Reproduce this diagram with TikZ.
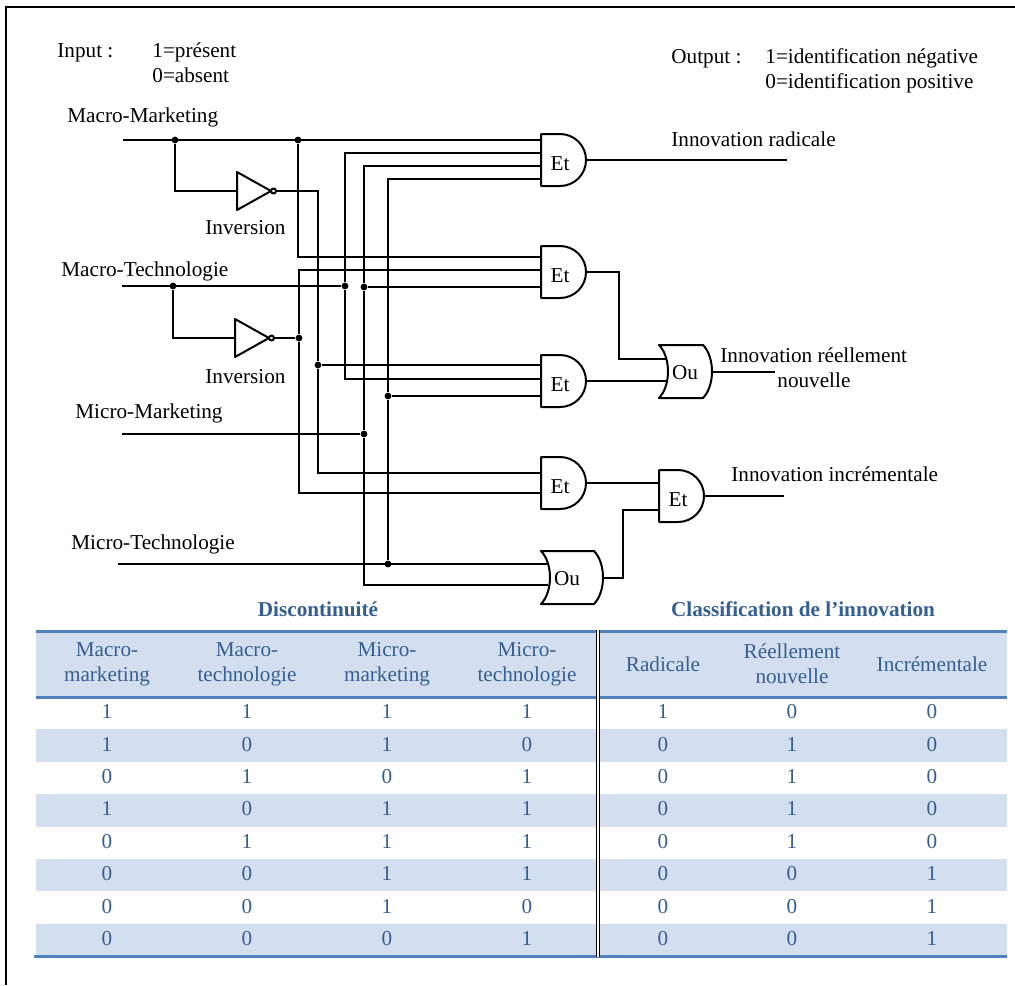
\documentclass[tikz,border=0pt]{standalone}
\usepackage{fontspec}
\setmainfont{Liberation Serif}
\usepackage{xcolor}
\usepackage{tikz}
\definecolor{ink}{HTML}{000000}
\definecolor{tblue}{HTML}{365F91}
\definecolor{rulec}{HTML}{4F81BD}
\definecolor{rowfill}{HTML}{D3DFEE}
\newcommand{\lblfont}{\fontsize{10.6}{12.5}\selectfont}
\tikzset{
  wire/.style={draw=ink, line width=1pt},
  gate/.style={draw=ink, line width=1pt, line join=round},
  frame/.style={draw=ink, line width=1pt},
  dot/.style={circle, fill=ink, inner sep=1.2pt},
  lab/.style={text=ink, inner sep=0pt, anchor=base west},
  glab/.style={text=ink, inner sep=0pt},
  th/.style={text=tblue, align=center, inner sep=0pt},
  td/.style={text=tblue, inner sep=0pt},
  tt/.style={text=tblue, font=\lblfont\bfseries, inner sep=0pt},
  hrule/.style={draw=rulec, line width=1.5pt},
  band/.style={fill=rowfill},
  dbl/.style={draw=ink, line width=0.8pt, double=white, double distance=0.8pt},
  pics/andgate/.style={code={
    \draw[gate] (19,-26) -- (0,-26) -- (0,26) -- (19,26)
      .. controls (33.4,26) and (45,14.4) .. (45,0)
      .. controls (45,-14.4) and (33.4,-26) .. cycle;
    \node[glab] (-t) at (19,4) {Et};
    \coordinate (-out) at (45,0);
  }},
  pics/orgate/.style={code={
    \draw[gate] (0,-26.5) -- (#1-9,-26.5)
      .. controls (#1+3,-14) and (#1+3,14) .. (#1-9,26.5) -- (0,26.5)
      .. controls (12,14) and (12,-14) .. cycle;
    \node[glab] (-t) at (26,1) {Ou};
    \coordinate (-out) at (#1,0);
  }},
  pics/notgate/.style={code={
    \draw[gate] (0,-19) -- (34,0) -- (0,19) -- cycle;
    \draw[gate] (36.5,0) circle (2.5);
    \coordinate (-in) at (0,0);
    \coordinate (-out) at (39,0);
  }},
}
\begin{document}
\begin{tikzpicture}[x=0.5pt, y=-0.5pt, font=\lblfont]
  \useasboundingbox (0,0) rectangle (1015,985);
  \draw[frame] (1015,7) -- (6,7) -- (6,985);

  % legend
  \node[lab] (inp) at (57,57) {Input :};
  \node[lab] (inp1) at (152,57) {1=présent};
  \node[lab] (inp0) at (152,82) {0=absent};
  \node[lab] (outp) at (671,63) {Output :};
  \node[lab] (outp1) at (765,63) {1=identification négative};
  \node[lab] (outp0) at (765,88) {0=identification positive};

  % inputs
  \node[lab] (lMM) at (67,122) {Macro-Marketing};
  \node[lab] (lMT) at (61,276) {Macro-Technologie};
  \node[lab] (lmM) at (75,418) {Micro-Marketing};
  \node[lab] (lmT) at (71,549) {Micro-Technologie};
  \coordinate (inMM) at (123,140);
  \coordinate (inMT) at (122,286);
  \coordinate (inmM) at (122,434);
  \coordinate (inmT) at (118,564);

  % gates
  \pic (n1) at (237,191) {notgate};
  \pic (n2) at (235,338) {notgate};
  \node[lab] (inv1) at (205,234) {Inversion};
  \node[lab] (inv2) at (205,383) {Inversion};
  \pic (g1) at (541,160) {andgate};
  \pic (g2) at (541,272) {andgate};
  \pic (g3) at (541,381) {andgate};
  \pic (g4) at (541,483) {andgate};
  \pic (g5) at (659,496) {andgate};
  \pic (o1) at (659,371.5) {orgate=53};
  \pic (o2) at (541,577.5) {orgate=62};

  % gate inputs
  \coordinate (g1a) at (541,140);
  \coordinate (g1b) at (541,153);
  \coordinate (g1c) at (541,166);
  \coordinate (g1d) at (541,179);
  \coordinate (g2a) at (541,257);
  \coordinate (g2b) at (541,270);
  \coordinate (g2c) at (541,287);
  \coordinate (g3a) at (541,365);
  \coordinate (g3b) at (541,379);
  \coordinate (g3c) at (541,396);
  \coordinate (g4a) at (541,473);
  \coordinate (g4b) at (541,493);
  \coordinate (g5a) at (659,483);
  \coordinate (g5b) at (659,510);
  \coordinate (o1a) at (666,359);
  \coordinate (o1b) at (666,381);
  \coordinate (o2a) at (548,564);
  \coordinate (o2b) at (548,585);

  % junctions
  \node[dot] (j1) at (175,140) {};
  \node[dot] (j2) at (298,140) {};
  \node[dot] (j3) at (173,286) {};
  \node[dot] (j4) at (345,286) {};
  \node[dot] (j5) at (364,287) {};
  \node[dot] (j6) at (364,434) {};
  \node[dot] (j7) at (318,365) {};
  \node[dot] (j8) at (299,338) {};
  \node[dot] (j9) at (388,396) {};
  \node[dot] (j10) at (388,564) {};

  % wiring
  \draw[wire] (inMM) -- (g1a);
  \draw[wire] (j1) |- (n1-in);
  \draw[wire] (j2) |- (g2a);
  \draw[wire] (n1-out) -| (j7) |- (g4a);
  \draw[wire] (j7) -- (g3a);
  \draw[wire] (inMT) -- (j4);
  \draw[wire] (j3) |- (n2-in);
  \draw[wire] (n2-out) -- (j8);
  \draw[wire] (g2b) -| (j8) |- (g4b);
  \draw[wire] (g1b) -| (j4) |- (g3b);
  \draw[wire] (g1c) -| (j5) -- (j6) |- (o2b);
  \draw[wire] (j5) -- (g2c);
  \draw[wire] (inmM) -- (j6);
  \draw[wire] (g1d) -| (j9) -- (j10);
  \draw[wire] (j9) -- (g3c);
  \draw[wire] (inmT) -- (o2a);

  % outputs
  \coordinate (e1) at (787,160);
  \coordinate (e2) at (775,371.5);
  \coordinate (e3) at (784,496);
  \draw[wire] (g1-out) -- (e1);
  \draw[wire] (g2-out) -- ++(33,0) |- (o1a);
  \draw[wire] (g3-out) -- (o1b);
  \draw[wire] (o1-out) -- (e2);
  \draw[wire] (g4-out) -- (g5a);
  \draw[wire] (o2-out) -- ++(20,0) |- (g5b);
  \draw[wire] (g5-out) -- (e3);
  \node[lab] (rad) at (671,146) {Innovation radicale};
  \node[lab] (reel) at (720,362) {Innovation réellement};
  \node[lab] (nouv) at (777,387) {nouvelle};
  \node[lab] (incr) at (731,481) {Innovation incrémentale};

  % truth table
  \node[tt] (disc) at (318,609) {Discontinuité};
  \node[tt] (clas) at (803,609) {Classification de l’innovation};
  \fill[band] (36,631) rectangle (1007,697);
  \foreach \k in {2,4,6,8}
    \fill[band] (36,{697+32.4*(\k-1)}) rectangle (1007,{697+32.4*\k});
  \draw[hrule] (36,631) -- (1007,631);
  \draw[hrule] (36,697) -- (1007,697);
  \draw[hrule] (34,956) -- (1007,956);
  \draw[dbl] (598,630) -- (598,957);
  \node[th] (h1) at (107,664) {Macro-\\marketing};
  \node[th] (h2) at (247,664) {Macro-\\technologie};
  \node[th] (h3) at (387,664) {Micro-\\marketing};
  \node[th] (h4) at (527,664) {Micro-\\technologie};
  \node[th] (h5) at (663,664) {Radicale};
  \node[th] (h6) at (792,664) {Réellement\\nouvelle};
  \node[th] (h7) at (932,664) {Incrémentale};
  \foreach \rowvals [count=\r] in {{1,1,1,1,1,0,0},{1,0,1,0,0,1,0},{0,1,0,1,0,1,0},
      {1,0,1,1,0,1,0},{0,1,1,1,0,1,0},{0,0,1,1,0,0,1},{0,0,1,0,0,0,1},{0,0,0,1,0,0,1}}{
    \foreach \v [count=\c] in \rowvals {
      \pgfmathsetmacro\cx{{107,247,387,527,663,792,932}[\c-1]}
      \node[td] (c\r-\c) at (\cx,{697+32.4*\r-17.7}) {\v};
    }
  }
\end{tikzpicture}
\end{document}
